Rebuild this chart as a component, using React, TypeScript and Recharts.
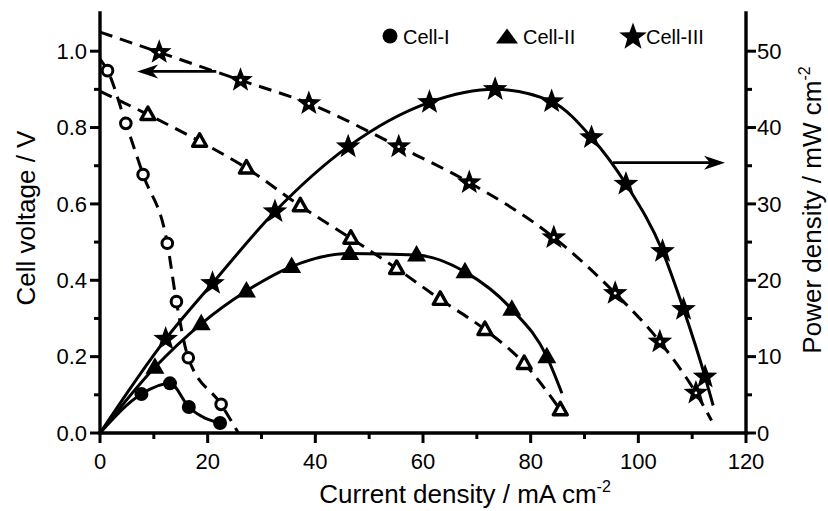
import React from 'react';
import { ComposedChart, Line, Scatter, XAxis, YAxis, ReferenceLine } from 'recharts';

const FONT = '"Liberation Sans", Arial, Helvetica, sans-serif';

// axis ticks
const xMajorTicks = [0, 20, 40, 60, 80, 100, 120];
const xMinorTicks = [10, 30, 50, 70, 90, 110];
const vMajorTicks = [0, 0.2, 0.4, 0.6, 0.8, 1.0];
const vMinorTicks = [0.1, 0.3, 0.5, 0.7, 0.9];
const pMajorTicks = [0, 10, 20, 30, 40, 50];
const pMinorTicks = [5, 15, 25, 35, 45];

// Cell-I : open circles = voltage, filled circles = power
const cell1Voltage = [
    { x: 1.4, y: 0.949 },
    { x: 4.8, y: 0.811 },
    { x: 8.0, y: 0.677 },
    { x: 12.5, y: 0.497 },
    { x: 14.2, y: 0.344 },
    { x: 16.4, y: 0.197 },
    { x: 22.5, y: 0.075 },
];
const cell1Power = [
    { x: 7.7, y: 5.1 },
    { x: 13.0, y: 6.5 },
    { x: 16.5, y: 3.4 },
    { x: 22.3, y: 1.3 },
];

// Cell-II : open triangles = voltage, filled triangles = power
const cell2Voltage = [
    { x: 8.9, y: 0.834 },
    { x: 18.5, y: 0.764 },
    { x: 27.2, y: 0.694 },
    { x: 37.2, y: 0.595 },
    { x: 46.6, y: 0.51 },
    { x: 55.1, y: 0.431 },
    { x: 63.2, y: 0.35 },
    { x: 71.5, y: 0.271 },
    { x: 78.8, y: 0.182 },
    { x: 85.5, y: 0.061 },
];
const cell2Power = [
    { x: 10.2, y: 8.6 },
    { x: 18.8, y: 14.3 },
    { x: 27.2, y: 18.6 },
    { x: 35.6, y: 21.8 },
    { x: 46.4, y: 23.5 },
    { x: 58.8, y: 23.3 },
    { x: 67.8, y: 21.1 },
    { x: 76.5, y: 16.2 },
    { x: 83.0, y: 10.0 },
];

// Cell-III : open stars = voltage, filled stars = power
const cell3Voltage = [
    { x: 11.0, y: 0.997 },
    { x: 26.1, y: 0.924 },
    { x: 38.8, y: 0.863 },
    { x: 55.5, y: 0.75 },
    { x: 68.6, y: 0.656 },
    { x: 84.3, y: 0.512 },
    { x: 95.7, y: 0.366 },
    { x: 104.0, y: 0.239 },
    { x: 110.7, y: 0.105 },
];
const cell3Power = [
    { x: 12.2, y: 12.3 },
    { x: 20.9, y: 19.6 },
    { x: 32.5, y: 29.0 },
    { x: 46.1, y: 37.5 },
    { x: 61.2, y: 43.3 },
    { x: 73.4, y: 45.0 },
    { x: 83.9, y: 43.4 },
    { x: 91.3, y: 38.7 },
    { x: 97.7, y: 32.6 },
    { x: 104.5, y: 23.8 },
    { x: 108.4, y: 16.2 },
    { x: 112.4, y: 7.35 },
];

// fitted curves run a little past the measured points
const origin = { x: 0, y: 0 };
const cell1VoltageCurve = [{ x: 0, y: 0.98 }, ...cell1Voltage, { x: 25.7, y: 0 }];
const cell1PowerCurve = [origin, ...cell1Power];
const cell2VoltageCurve = [{ x: 0, y: 0.895 }, ...cell2Voltage];
const cell2PowerCurve = [origin, ...cell2Power, { x: 85.8, y: 5.2 }];
const cell3VoltageCurve = [{ x: 0, y: 1.05 }, ...cell3Voltage, { x: 113.6, y: 0.033 }];
const cell3PowerCurve = [origin, ...cell3Power, { x: 113.9, y: 3.6 }];

// arrows pointing to the axis each curve family belongs to
const voltageArrow = [{ x: 21.6, y: 0.947 }, { x: 6.9, y: 0.947 }];
const powerArrow = [{ x: 95.3, y: 35.4 }, { x: 116.1, y: 35.4 }];

const LINE_W = 3;
const DASH = '13 8';

function starPath(cx: number, cy: number, R: number, r: number) {
    let d = '';
    for (let i = 0; i < 10; i++) {
        const a = ((-90 + i * 36) * Math.PI) / 180;
        const rad = i % 2 === 0 ? R : r;
        d += `${i === 0 ? 'M' : 'L'}${cx + rad * Math.cos(a)},${cy + rad * Math.sin(a)}`;
    }
    return d + 'Z';
}

const FilledCircle = ({ cx, cy }: any) => <circle cx={cx} cy={cy} r={7} fill="#000" />;
const OpenCircle = ({ cx, cy }: any) => (
    <circle cx={cx} cy={cy} r={5.3} fill="#fff" stroke="#000" strokeWidth={3} />
);
const FilledTriangle = ({ cx, cy }: any) => (
    <path d={`M${cx},${cy - 10}L${cx + 9.5},${cy + 6.5}L${cx - 9.5},${cy + 6.5}Z`} fill="#000" />
);
const OpenTriangle = ({ cx, cy }: any) => (
    <path
        d={`M${cx},${cy - 7.5}L${cx + 7},${cy + 5}L${cx - 7},${cy + 5}Z`}
        fill="#fff"
        stroke="#000"
        strokeWidth={3.4}
        strokeLinejoin="round"
    />
);
const FilledStar = ({ cx, cy }: any) => <path d={starPath(cx, cy, 13, 5.4)} fill="#000" />;
// hollow star: drawn with a very heavy outline, only a pin-hole stays white
const OpenStar = ({ cx, cy }: any) => (
    <g>
        <path d={starPath(cx, cy, 13, 5.4)} fill="#000" />
        <circle cx={cx} cy={cy} r={1.4} fill="#fff" />
    </g>
);

const ArrowShape = (props: any) => {
    const { x1, y1, x2, y2 } = props;
    const dir = x2 > x1 ? 1 : -1;
    const len = 21;
    const hw = 7;
    const notch = 6;
    return (
        <g>
            <line x1={x1} y1={y1} x2={x2 - dir * notch} y2={y2} stroke="#000" strokeWidth={2.6} />
            <path
                d={`M${x2},${y2}L${x2 - dir * len},${y2 - hw}L${x2 - dir * (len - notch)},${y2}L${x2 - dir * len},${y2 + hw}Z`}
                fill="#000"
            />
        </g>
    );
};

const AxisTick = (props: any) => {
    const { x = 0, y = 0, payload, side, majors, digits } = props;
    const v: number = payload?.value ?? 0;
    const isMajor = majors.some((m: number) => Math.abs(m - v) < 1e-9);
    const len = isMajor ? 10 : 6;
    const label = isMajor ? v.toFixed(digits) : '';
    const textStyle = { fontFamily: FONT, fontSize: 22, fill: '#000' };
    if (side === 'bottom') {
        return (
            <g>
                <line x1={x} y1={y} x2={x} y2={y + len} stroke="#000" strokeWidth={3} />
                {label && (
                    <text x={x} y={y + 20} dy="0.71em" textAnchor="middle" style={textStyle}>
                        {label}
                    </text>
                )}
            </g>
        );
    }
    const dir = side === 'left' ? -1 : 1;
    return (
        <g>
            <line x1={x} y1={y} x2={x + dir * len} y2={y} stroke="#000" strokeWidth={3} />
            {label && (
                <text
                    x={side === 'left' ? x - 13 : x + 11}
                    y={y}
                    dy="0.355em"
                    textAnchor={side === 'left' ? 'end' : 'start'}
                    style={textStyle}
                >
                    {label}
                </text>
            )}
        </g>
    );
};

const titleStyle = { fontFamily: FONT, fontSize: 26, fill: '#000' };

const BottomTitle = () => (
    <text x={465} y={503} textAnchor="middle" style={titleStyle}>
        Current density / mA cm
        <tspan dy={-11} fontSize={16}>
            -2
        </tspan>
    </text>
);
const LeftTitle = () => (
    <text x={35} y={218} textAnchor="middle" transform="rotate(-90 35 218)" style={titleStyle}>
        Cell voltage / V
    </text>
);
const RightTitle = () => (
    <text x={821} y={210} textAnchor="middle" transform="rotate(-90 821 210)" style={titleStyle}>
        Power density / mW cm
        <tspan dy={-11} fontSize={16}>
            -2
        </tspan>
    </text>
);

const legendItems = [
    { name: 'Cell-I', icon: 'circle', cx: 390, tx: 403 },
    { name: 'Cell-II', icon: 'triangle', cx: 507, tx: 523 },
    { name: 'Cell-III', icon: 'star', cx: 633, tx: 646 },
];

function LegendOverlay() {
    return (
        <svg
            width={828}
            height={60}
            style={{ position: 'absolute', left: 0, top: 0, pointerEvents: 'none' }}
        >
            {legendItems.map((it) => (
                <g key={it.name}>
                    {it.icon === 'circle' && <circle cx={it.cx} cy={36} r={7.5} fill="#000" />}
                    {it.icon === 'triangle' && (
                        <path d={`M${it.cx},28.5L${it.cx + 11},43.5L${it.cx - 11},43.5Z`} fill="#000" />
                    )}
                    {it.icon === 'star' && <path d={starPath(it.cx, 37, 14.5, 6)} fill="#000" />}
                    <text x={it.tx} y={44} style={{ fontFamily: FONT, fontSize: 20, fill: '#000' }}>
                        {it.name}
                    </text>
                </g>
            ))}
        </svg>
    );
}

const axisLine = { stroke: '#000', strokeWidth: 3.4, strokeLinecap: 'square' as const };

export default function App() {
    return (
        <div style={{ position: 'relative', width: 828, height: 511, background: '#fff' }}>
            <style>{'body{margin:0}'}</style>
            <ComposedChart width={828} height={511} margin={{ top: 13, right: 0, bottom: 0, left: 0 }}>
                <XAxis
                    dataKey="x"
                    type="number"
                    domain={[0, 120]}
                    ticks={[...xMajorTicks, ...xMinorTicks].sort((a, b) => a - b)}
                    interval={0}
                    height={78}
                    axisLine={axisLine}
                    tickLine={false}
                    tickSize={0}
                    tickMargin={0}
                    tick={<AxisTick side="bottom" majors={xMajorTicks} digits={0} />}
                    label={{ content: () => <BottomTitle /> }}
                />
                <XAxis
                    xAxisId="top"
                    orientation="top"
                    dataKey="x"
                    type="number"
                    domain={[0, 120]}
                    height={0}
                    tick={false}
                    tickLine={false}
                    axisLine={axisLine}
                />
                <YAxis
                    yAxisId="v"
                    dataKey="y"
                    type="number"
                    domain={[0, 1.1]}
                    ticks={[...vMajorTicks, ...vMinorTicks].sort((a, b) => a - b)}
                    interval={0}
                    width={100}
                    axisLine={axisLine}
                    tickLine={false}
                    tickSize={0}
                    tickMargin={0}
                    tick={<AxisTick side="left" majors={vMajorTicks} digits={1} />}
                    label={{ content: () => <LeftTitle /> }}
                />
                <YAxis
                    yAxisId="p"
                    orientation="right"
                    dataKey="y"
                    type="number"
                    domain={[0, 55]}
                    ticks={[...pMajorTicks, ...pMinorTicks].sort((a, b) => a - b)}
                    interval={0}
                    width={82}
                    axisLine={axisLine}
                    tickLine={false}
                    tickSize={0}
                    tickMargin={0}
                    tick={<AxisTick side="right" majors={pMajorTicks} digits={0} />}
                    label={{ content: () => <RightTitle /> }}
                />

                <Line data={cell1VoltageCurve} dataKey="y" yAxisId="v" type="monotone" stroke="#000" strokeWidth={LINE_W} strokeDasharray={DASH} dot={false} activeDot={false} isAnimationActive={false} />
                <Line data={cell2VoltageCurve} dataKey="y" yAxisId="v" type="monotone" stroke="#000" strokeWidth={LINE_W} strokeDasharray={DASH} dot={false} activeDot={false} isAnimationActive={false} />
                <Line data={cell3VoltageCurve} dataKey="y" yAxisId="v" type="monotone" stroke="#000" strokeWidth={LINE_W} strokeDasharray={DASH} dot={false} activeDot={false} isAnimationActive={false} />
                <Line data={cell1PowerCurve} dataKey="y" yAxisId="p" type="monotone" stroke="#000" strokeWidth={LINE_W} dot={false} activeDot={false} isAnimationActive={false} />
                <Line data={cell2PowerCurve} dataKey="y" yAxisId="p" type="monotone" stroke="#000" strokeWidth={LINE_W} dot={false} activeDot={false} isAnimationActive={false} />
                <Line data={cell3PowerCurve} dataKey="y" yAxisId="p" type="monotone" stroke="#000" strokeWidth={LINE_W} dot={false} activeDot={false} isAnimationActive={false} />

                <Scatter data={cell1Voltage} dataKey="y" yAxisId="v" shape={OpenCircle} isAnimationActive={false} />
                <Scatter data={cell2Voltage} dataKey="y" yAxisId="v" shape={OpenTriangle} isAnimationActive={false} />
                <Scatter data={cell3Voltage} dataKey="y" yAxisId="v" shape={OpenStar} isAnimationActive={false} />
                <Scatter data={cell1Power} dataKey="y" yAxisId="p" shape={FilledCircle} isAnimationActive={false} />
                <Scatter data={cell2Power} dataKey="y" yAxisId="p" shape={FilledTriangle} isAnimationActive={false} />
                <Scatter data={cell3Power} dataKey="y" yAxisId="p" shape={FilledStar} isAnimationActive={false} />

                <ReferenceLine yAxisId="v" segment={voltageArrow} shape={ArrowShape} />
                <ReferenceLine yAxisId="p" segment={powerArrow} shape={ArrowShape} />
            </ComposedChart>
            <LegendOverlay />
        </div>
    );
}
